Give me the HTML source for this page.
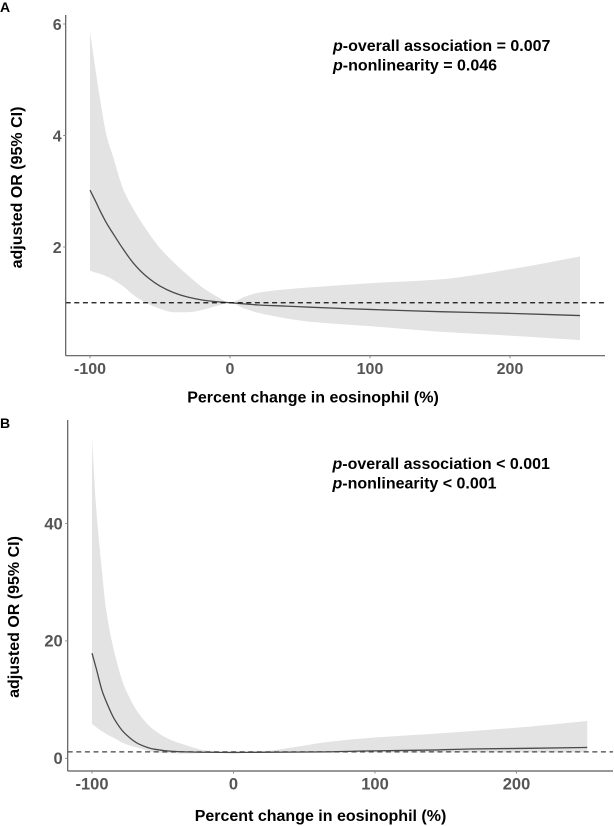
<!DOCTYPE html>
<html>
<head>
<meta charset="utf-8">
<title>Adjusted OR by percent change in eosinophil</title>
<style>
html,body{margin:0;padding:0;background:#fff;}
svg{display:block;}
text{font-family:"Liberation Sans",Arial,sans-serif;font-weight:bold;}
</style>
</head>
<body>
<svg id="chart" width="614" height="826" viewBox="0 0 614 826" xmlns="http://www.w3.org/2000/svg">
<rect width="614" height="826" fill="#fff"/>
<text x="0" y="12" font-size="14" fill="#000">A</text>
<text x="0" y="428" font-size="14" fill="#000">B</text>
<g id="panelA"></g>
<g id="panelB"></g>
<text x="313" y="402.5" font-size="16" text-anchor="middle" fill="#000">Percent change in eosinophil (%)</text>
<text transform="translate(22,187.5) rotate(-90)" font-size="16" text-anchor="middle" fill="#000">adjusted OR (95% CI)</text>
<text x="333" y="51" font-size="16" fill="#000"><tspan font-style="italic">p</tspan>-overall association = 0.007</text>
<text x="333" y="70.5" font-size="16" fill="#000"><tspan font-style="italic">p</tspan>-nonlinearity = 0.046</text>
<text x="320.5" y="821" font-size="16" text-anchor="middle" fill="#000">Percent change in eosinophil (%)</text>
<text transform="translate(19,617) rotate(-90)" font-size="16" text-anchor="middle" fill="#000">adjusted OR (95% CI)</text>
<text x="332.5" y="469" font-size="16" fill="#000"><tspan font-style="italic">p</tspan>-overall association &lt; 0.001</text>
<text x="332.5" y="488.5" font-size="16" fill="#000"><tspan font-style="italic">p</tspan>-nonlinearity &lt; 0.001</text>
</svg>
<script>
const xTickLabels = [-100, 0, 100, 200];

const pctA = [-100,-96,-93,-88,-84,-76,-69,-60,-50,-40,-30,-20,-10,0,10,20,40,57,100,150,200,250];
const upperA = [5.86,5.17,4.68,3.98,3.66,3.02,2.68,2.32,1.98,1.72,1.49,1.28,1.12,1.0,1.10,1.18,1.24,1.275,1.35,1.42,1.60,1.83];
const lowerA = [1.575,1.54,1.52,1.47,1.42,1.29,1.14,1.0,0.89,0.83,0.83,0.87,0.94,1.0,0.90,0.82,0.72,0.66,0.58,0.48,0.41,0.33];
const lineA = [3.02,2.82,2.66,2.42,2.26,1.95,1.71,1.48,1.30,1.18,1.10,1.05,1.02,1.0,0.98,0.96,0.94,0.92,0.88,0.84,0.81,0.77];
const yTickLabelsA = [2, 4, 6];
const refA = 1;

const pctB = [-100,-97,-93,-90,-84,-77,-67,-56,-44,-34,-20,0,16,68,92,139,167,209,250];
const upperB = [54.5,42.5,32,25.3,17.9,12.2,7.66,4.8,3.1,2.27,1.35,1,1.12,2.83,3.4,4.14,4.6,5.4,6.35];
const lowerB = [5.84,5.3,4.6,4.15,3.4,2.5,1.75,1.05,0.85,0.8,0.9,1,1,1,1,1,1,1,1];
const lineB = [17.9,15.3,11.6,9.7,6.6,4.3,2.45,1.55,1.2,1.1,1.03,1,1.02,1.1,1.24,1.4,1.58,1.7,1.85];
const yTickLabelsB = [0, 20, 40];
const refB = 1.1;

const NS = 'http://www.w3.org/2000/svg';

function smoothSegments(xs, ys) {
  const n = xs.length;
  const d = [];
  for (let i = 0; i < n - 1; i++) d.push((ys[i + 1] - ys[i]) / (xs[i + 1] - xs[i]));
  const m = [d[0]];
  for (let i = 1; i < n - 1; i++) {
    m.push(d[i - 1] * d[i] <= 0 ? 0 : 2 * d[i - 1] * d[i] / (d[i - 1] + d[i]));
  }
  m.push(d[n - 2]);
  let out = '';
  for (let i = 0; i < n - 1; i++) {
    const h = (xs[i + 1] - xs[i]) / 3;
    out += ' C' + (xs[i] + h).toFixed(2) + ',' + (ys[i] + m[i] * h).toFixed(2) + ' ' +
      (xs[i + 1] - h).toFixed(2) + ',' + (ys[i + 1] - m[i + 1] * h).toFixed(2) + ' ' +
      xs[i + 1].toFixed(2) + ',' + ys[i + 1].toFixed(2);
  }
  return out;
}

function drawPanel(id, cfg, pct, upper, lower, line, yTicks, ref) {
  const g = document.getElementById(id);
  const sx = v => cfg.x0 + cfg.xk * v;
  const sy = v => cfg.y0 - cfg.yk * v;
  const px = pct.map(sx);
  const pxRev = px.slice().reverse();
  const upY = upper.map(sy);
  const loYRev = lower.map(sy).reverse();
  const lnY = line.map(sy);

  const band = document.createElementNS(NS, 'path');
  
  
  band.setAttribute('d', 'M' + px[0] + ',' + upY[0] + smoothSegments(px, upY) +
    ' L' + pxRev[0] + ',' + loYRev[0] + smoothSegments(pxRev, loYRev) + ' Z');
  band.setAttribute('fill', '#e3e3e3');
  g.appendChild(band);

  const curve = document.createElementNS(NS, 'path');
  
  
  curve.setAttribute('d', 'M' + px[0] + ',' + lnY[0] + smoothSegments(px, lnY));
  curve.setAttribute('fill', 'none');
  curve.setAttribute('stroke', '#4a4a4a');
  curve.setAttribute('stroke-width', '1.3');
  g.appendChild(curve);

  const refLine = document.createElementNS(NS, 'line');
  
  
  refLine.setAttribute('x1', cfg.left);
  refLine.setAttribute('x2', cfg.right);
  refLine.setAttribute('y1', sy(ref));
  refLine.setAttribute('y2', sy(ref));
  refLine.setAttribute('stroke', cfg.dash);
  refLine.setAttribute('stroke-width', '1.2');
  refLine.setAttribute('stroke-dasharray', '5 3.6');
  g.appendChild(refLine);

  const yAxis = document.createElementNS(NS, 'line');
  
  
  yAxis.setAttribute('x1', cfg.left);
  yAxis.setAttribute('x2', cfg.left);
  yAxis.setAttribute('y1', cfg.top);
  yAxis.setAttribute('y2', cfg.bottom);
  yAxis.setAttribute('stroke', '#5a5a5a');
  yAxis.setAttribute('stroke-width', '1.2');
  g.appendChild(yAxis);

  const xAxis = document.createElementNS(NS, 'line');
  
  
  xAxis.setAttribute('x1', cfg.left);
  xAxis.setAttribute('x2', cfg.right);
  xAxis.setAttribute('y1', cfg.bottom);
  xAxis.setAttribute('y2', cfg.bottom);
  xAxis.setAttribute('stroke', '#5a5a5a');
  xAxis.setAttribute('stroke-width', '1.2');
  g.appendChild(xAxis);

  xTickLabels.forEach(v => {
    const tick = document.createElementNS(NS, 'line');
    
    
    tick.setAttribute('x1', sx(v));
    tick.setAttribute('x2', sx(v));
    tick.setAttribute('y1', cfg.bottom);
    tick.setAttribute('y2', cfg.bottom + 2.5);
    tick.setAttribute('stroke', '#8a8a8a');
    tick.setAttribute('stroke-width', '1');
    g.appendChild(tick);

    const label = document.createElementNS(NS, 'text');
    
    
    label.setAttribute('x', sx(v));
    label.setAttribute('y', cfg.bottom + 18.5);
    label.setAttribute('text-anchor', 'middle');
    label.setAttribute('font-size', cfg.tickSize);
    label.setAttribute('fill', '#555');
    label.textContent = String(v);
    g.appendChild(label);
  });

  yTicks.forEach(v => {
    const tick = document.createElementNS(NS, 'line');
    
    
    tick.setAttribute('x1', cfg.left - 2.5);
    tick.setAttribute('x2', cfg.left);
    tick.setAttribute('y1', sy(v));
    tick.setAttribute('y2', sy(v));
    tick.setAttribute('stroke', '#8a8a8a');
    tick.setAttribute('stroke-width', '1');
    g.appendChild(tick);

    const label = document.createElementNS(NS, 'text');
    
    
    label.setAttribute('x', cfg.left - cfg.labelGap);
    label.setAttribute('y', sy(v) + 5.8);
    label.setAttribute('text-anchor', 'end');
    label.setAttribute('font-size', cfg.tickSize);
    label.setAttribute('fill', '#555');
    label.textContent = String(v);
    g.appendChild(label);
  });
}

drawPanel('panelA',
  {x0:230, xk:1.4, y0:358.5, yk:55.75, left:65.7, right:605, top:15, bottom:355.7, tickSize:16, labelGap:4, dash:'#111'},
  pctA, upperA, lowerA, lineA, yTickLabelsA, refA);
drawPanel('panelB',
  {x0:233.5, xk:1.415, y0:758.3, yk:5.87, left:67.7, right:613, top:420, bottom:771, tickSize:16.5, labelGap:5, dash:'#444'},
  pctB, upperB, lowerB, lineB, yTickLabelsB, refB);
</script>
</body>
</html>
